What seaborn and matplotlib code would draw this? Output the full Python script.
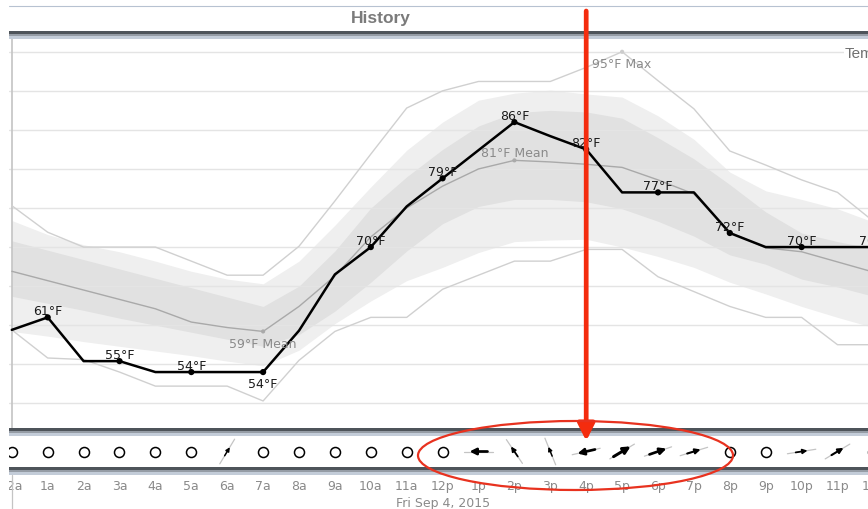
import numpy as np
import matplotlib
matplotlib.use("Agg")
import matplotlib.pyplot as plt
from matplotlib.patches import Rectangle, Ellipse
import seaborn as sns

# hourly values for Fri Sep 4, 2015 (12a .. 12a next day)
hours = list(range(25))
hour_labels = ["12a", "1a", "2a", "3a", "4a", "5a", "6a", "7a", "8a", "9a", "10a", "11a",
               "12p", "1p", "2p", "3p", "4p", "5p", "6p", "7p", "8p", "9p", "10p", "11p", "12a"]

temp = [59.4, 61.0, 55.4, 55.4, 54.0, 54.0, 54.0, 54.0, 59.3, 66.5, 70.0, 75.2, 78.8,
        82.4, 86.0, 84.2, 82.5, 77.0, 77.0, 77.0, 71.8, 70.0, 70.0, 70.0, 70.0]
temp_mean = [66.9, 65.7, 64.5, 63.3, 62.1, 60.4, 59.7, 59.2, 62.4, 66.3, 71.3, 75.0, 77.8,
             80.0, 81.1, 80.9, 80.6, 80.2, 78.6, 76.8, 71.9, 69.9, 69.4, 68.1, 66.8]
temp_max = [75.3, 71.9, 70.0, 70.0, 70.0, 68.2, 66.4, 66.4, 70.1, 75.9, 81.9, 87.8, 90.0,
            91.2, 91.2, 91.2, 93.0, 95.0, 91.3, 87.7, 82.3, 80.5, 78.6, 77.0, 73.3]
temp_min = [59.4, 55.8, 55.6, 54.0, 52.2, 52.2, 52.2, 50.3, 55.5, 59.2, 61.0, 61.0, 64.6,
            66.4, 68.2, 68.2, 69.7, 69.7, 66.2, 64.3, 62.4, 61.0, 61.0, 57.5, 57.5]

# historical ranges (outer and inner bands)
outer_hi = [73.4, 71.6, 70.3, 69.4, 68.2, 66.9, 65.9, 65.3, 68.2, 72.8, 77.7, 82.4, 86.0,
            88.8, 89.7, 90.1, 89.6, 89.2, 86.8, 83.8, 79.6, 77.2, 76.1, 74.9, 73.2]
inner_hi = [70.8, 69.6, 68.4, 67.2, 66.0, 64.8, 63.6, 62.4, 65.0, 69.5, 75.0, 79.0, 82.5,
            85.5, 87.2, 87.5, 87.3, 86.5, 84.0, 81.3, 78.0, 74.5, 71.8, 70.7, 69.8]
inner_lo = [63.7, 62.8, 61.9, 60.9, 60.0, 59.1, 58.2, 57.3, 58.8, 61.8, 65.5, 69.5, 73.0,
            75.2, 76.1, 76.1, 75.8, 74.9, 73.3, 71.4, 69.0, 67.8, 65.9, 64.9, 63.7]
outer_lo = [59.2, 58.6, 57.9, 57.3, 56.7, 56.1, 55.4, 54.8, 56.8, 60.2, 63.1, 65.7, 67.4,
            69.3, 70.7, 70.9, 71.0, 70.0, 68.8, 67.4, 65.5, 64.0, 62.4, 61.0, 59.7]

label_hours = [1, 3, 5, 7, 10, 12, 14, 16, 18, 20, 22, 24]
label_texts = ["61°F", "55°F", "54°F", "54°F", "70°F", "79°F", "86°F", "82°F",
               "77°F", "72°F", "70°F", "70°F"]
label_below = [7]

mean_note_hours = [7, 14]
mean_note_texts = ["59°F Mean", "81°F Mean"]
max_note_hour = 17
max_note_text = "95°F Max"

# wind: heading the arrow points to (deg, ccw from east), speed in mph, 0 = calm
wind_heading = [np.nan] * 6 + [59] + [np.nan] * 6 + [180, 124, 112, 193, 31, 19, 17] \
    + [np.nan, np.nan, 9, 31, np.nan]
wind_speed = [0, 0, 0, 0, 0, 0, 3, 0, 0, 0, 0, 0, 0, 7, 4, 3, 7, 8, 7, 5, 0, 0, 4, 5, 0]

title = "History"
series_name = "Temperature"
date_label = "Fri Sep 4, 2015"
highlight_hour = 16

# ---- layout (screenshot pixels) ----
W, H = 868, 510
X0, DX = 11.8, 35.9          # pixel of hour 0, pixels per hour
LEFT, RIGHT = 8.5, 900       # widget runs past the right edge of the screenshot
PLOT_TOP, PLOT_BOT = 39.5, 429.3
WIND_TOP, WIND_BOT = 436.7, 468.3
xlim = ((LEFT - X0) / DX, (RIGHT - X0) / DX)

sns.set_style("white")
plt.rcParams['font.family'] = ['DejaVu Sans']

fig = plt.figure(figsize=(W / 100, H / 100), dpi=100)
ax = fig.add_axes([LEFT / W, 1 - PLOT_BOT / H, (RIGHT - LEFT) / W, (PLOT_BOT - PLOT_TOP) / H])
ax_w = fig.add_axes([LEFT / W, 1 - WIND_BOT / H, (RIGHT - LEFT) / W, (WIND_BOT - WIND_TOP) / H])
ov = fig.add_axes([0, 0, 1, 1], zorder=10)

# ---- temperature panel ----
ax.set_xlim(*xlim)
ax.set_ylim(46.8, 96.7)
ax.fill_between(hours, outer_lo, outer_hi, color='#efefef', lw=0, zorder=0.6)
ax.fill_between(hours, inner_lo, inner_hi, color='#e1e1e1', lw=0, zorder=0.7)
ax.set_yticks(range(50, 100, 5))
ax.set_axisbelow('line')
ax.grid(axis='y', color='#e4e4e4', lw=1)
ax.tick_params(left=False, bottom=False, labelleft=False, labelbottom=False)
for s in ax.spines.values():
    s.set_visible(False)
ax.axvline(0, color='#c4c4c4', lw=1.2, zorder=1.6)

sns.lineplot(x=hours, y=temp_max, ax=ax, color='#d0d0d0', lw=1, zorder=2)
sns.lineplot(x=hours, y=temp_min, ax=ax, color='#d0d0d0', lw=1, zorder=2)
sns.lineplot(x=hours, y=temp_mean, ax=ax, color='#a9a9a9', lw=1, zorder=2.5)
sns.lineplot(x=hours, y=temp, ax=ax, color='black', lw=1.8, zorder=4)

sns.scatterplot(x=label_hours, y=[temp[h] for h in label_hours], ax=ax,
                color='black', s=20, edgecolor='none', zorder=5)
sns.scatterplot(x=mean_note_hours, y=[temp_mean[h] for h in mean_note_hours], ax=ax,
                color='#aaaaaa', s=9, edgecolor='none', zorder=5)
sns.scatterplot(x=[max_note_hour], y=[temp_max[max_note_hour]], ax=ax,
                color='#cccccc', s=9, edgecolor='none', zorder=5)

for h, t in zip(label_hours, label_texts):
    below = h in label_below
    ax.annotate(t, (h, temp[h]), xytext=(0, -3.5 if below else 2.2), textcoords='offset points',
                ha='center', va='top' if below else 'baseline', fontsize=9,
                color='#1a1a1a', zorder=6)

for h, t in zip(mean_note_hours, mean_note_texts):
    below = temp_mean[h] < 70
    ax.annotate(t, (h, temp_mean[h]), xytext=(0, -4 if below else 3), textcoords='offset points',
                ha='center', va='top' if below else 'baseline', fontsize=9,
                color='#8a8a8a', zorder=6)
ax.annotate(max_note_text, (max_note_hour, temp_max[max_note_hour]), xytext=(0, -3.5),
            textcoords='offset points', ha='center', va='top', fontsize=9,
            color='#8a8a8a', zorder=6)

ax.text((845 - X0) / DX, 94.85, series_name, family='Liberation Sans', fontsize=11,
        color='#707070', ha='left', va='center', zorder=7,
        bbox=dict(facecolor='white', edgecolor='none', pad=1))

# ---- wind strip ----
half = (WIND_BOT - WIND_TOP) / 2 / DX
ax_w.set_xlim(*xlim)
ax_w.set_ylim(-half, half)
for s in ax_w.spines.values():
    s.set_visible(False)
calm = [h for h in hours if wind_speed[h] == 0]
sns.scatterplot(x=calm, y=[0] * len(calm), ax=ax_w, s=52, color='white',
                edgecolor='black', linewidth=1.1, zorder=3)
for h in hours:
    spd = wind_speed[h]
    if spd == 0:
        continue
    th = np.deg2rad(wind_heading[h])
    c, sn = np.cos(th), np.sin(th)
    ax_w.plot([h - 0.4 * c, h + 0.4 * c], [-0.4 * sn, 0.4 * sn], color='#c4c4c4', lw=0.9)
    a = (4 + 2 * spd) / DX / 2
    ax_w.annotate('', xy=(h + a * c, a * sn), xytext=(h - a * c, -a * sn),
                  arrowprops=dict(arrowstyle='-|>', color='black', lw=0.4 + 0.22 * spd,
                                  mutation_scale=3 + 0.9 * spd, shrinkA=0, shrinkB=0))
ax_w.set_yticks([])
ax_w.set_xticks(hours)
ax_w.set_xticklabels(hour_labels)
ax_w.tick_params(axis='x', length=0, pad=8.4, labelsize=9, labelcolor='#8a8a8a')
ax_w.annotate(date_label, (12, 0), xycoords=('data', 'axes fraction'),
              xytext=(0, -(497 - WIND_BOT) * 0.72), textcoords='offset points',
              ha='center', va='top', fontsize=9, color='#8a8a8a')

# ---- frame decoration and red call-out ----
ov.set_xlim(0, W)
ov.set_ylim(H, 0)
ov.axis('off')
ov.plot([LEFT, W], [7, 7], color='#b7c2d1', lw=0.8)
ov.text(381, 18.5, title, ha='center', va='center', fontsize=12.5, fontweight='bold',
        color='#7b7b7b', family='Liberation Sans')
for y0 in (32, PLOT_BOT, WIND_BOT):
    ov.add_patch(Rectangle((LEFT, y0), W - LEFT, 2.6, color='#4e545a', lw=0))
    ov.add_patch(Rectangle((LEFT, y0 + 2.6), W - LEFT, 2.5, color='#959ca5', lw=0))
    ov.add_patch(Rectangle((LEFT, y0 + 5.1), W - LEFT, 2.4, color='#c3ccd8', lw=0))
ov.plot([X0, X0], [WIND_BOT + 7.5, H], color='#c4c4c4', lw=0.9)
ov.add_patch(Rectangle((0, 0), LEFT, H, color='white', lw=0, zorder=5))

x_red = X0 + DX * highlight_hour
ov.annotate('', xy=(x_red, 442), xytext=(x_red, 12),
            arrowprops=dict(arrowstyle='-|>,head_length=1.0,head_width=0.5', mutation_scale=10,
                            lw=3.4, color='#f42c0e', shrinkA=0, shrinkB=0), zorder=8)
ov.add_patch(Ellipse((575.5, 456.5), 315, 69, fill=False, edgecolor='#e8321f', lw=1.6, zorder=8))

fig.savefig('out.png', dpi=100, facecolor='white')
